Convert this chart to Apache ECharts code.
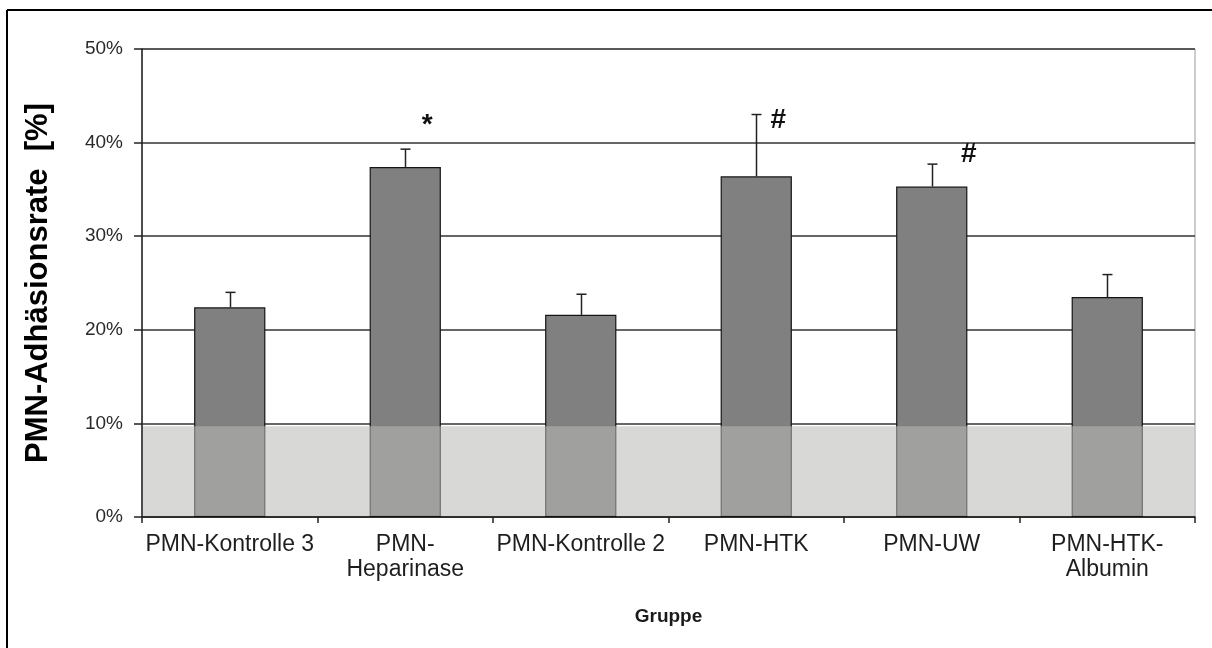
<!DOCTYPE html>
<html>
<head>
<meta charset="utf-8">
<title>PMN-Adhäsionsrate</title>
<script src="https://cdn.jsdelivr.net/npm/echarts@6/dist/echarts.min.js"></script>
<style>
  html, body { margin: 0; padding: 0; background: #fff; }
  #chart { width: 1212px; height: 648px; }
</style>
</head>
<body>
<div id="chart"></div>
<script>
// Groups and measured adhesion rates (mean, upper SD) in percent
const categories = ['PMN-Kontrolle 3', 'PMN-\nHeparinase', 'PMN-Kontrolle 2', 'PMN-HTK', 'PMN-UW', 'PMN-HTK-\nAlbumin'];
const meanRate = [22.4, 37.4, 21.6, 36.4, 35.3, 23.5];
const sdRate = [1.6, 1.9, 2.2, 6.6, 2.4, 2.4];
// Background adhesion level shaded across the plot
const baselineLevel = 9.7;
// Significance markers and the level (in %) they sit at
const markerText = ['', '*', '', '#', '#', ''];
const markerLevel = [null, 41.8, null, 42.4, 38.7, null];
// Y axis range
const yMin = 0, yMax = 50, yStep = 10;

const FONT = '"Liberation Sans", Arial, sans-serif';
// horizontal pixel shift of each marker from its category centre
const markerShift = [0, 22, 0, 22, 37, 0];

const chart = echarts.init(document.getElementById('chart'), null, { renderer: 'canvas' });

const errData = meanRate.map((m, i) => [i, m, m + sdRate[i]]);
const markData = markerText.map((t, i) => [i, markerLevel[i], t]).filter(d => d[2] !== '');

const option = {
  backgroundColor: '#ffffff',
  animation: false,
  graphic: [
    { type: 'line', shape: { x1: 7, y1: 10, x2: 1212, y2: 10 }, style: { stroke: '#000', lineWidth: 2 } },
    { type: 'line', shape: { x1: 7, y1: 10, x2: 7, y2: 648 }, style: { stroke: '#000', lineWidth: 2 } }
  ],
  grid: {
    left: 142, right: 17, top: 49, bottom: 131,
    show: true, borderColor: '#9a9a9a', borderWidth: 1, backgroundColor: 'transparent'
  },
  xAxis: {
    type: 'category',
    data: categories,
    name: 'Gruppe',
    nameLocation: 'middle',
    nameGap: 90,
    nameTextStyle: { fontFamily: FONT, fontWeight: 'bold', fontSize: 19, color: '#1a1a1a' },
    axisLine: { lineStyle: { color: '#222', width: 1.5 } },
    axisTick: { show: true, length: 6, lineStyle: { color: '#222', width: 1.5 } },
    axisLabel: {
      fontFamily: FONT, fontSize: 23, color: '#1e1e1e', margin: 15, lineHeight: 25, interval: 0
    },
    splitLine: { show: false }
  },
  yAxis: {
    type: 'value',
    min: yMin, max: yMax, interval: yStep,
    name: 'PMN-Adhäsionsrate  [%]',
    nameLocation: 'middle',
    nameGap: 88,
    nameTextStyle: { fontFamily: FONT, fontWeight: 'bold', fontSize: 31, color: '#000' },
    axisLine: { show: true, lineStyle: { color: '#222', width: 1.5 } },
    axisTick: { show: true, length: 8, lineStyle: { color: '#222', width: 1.5 } },
    axisLabel: {
      fontFamily: FONT, fontSize: 19, color: '#2a2a2a', margin: 19,
      formatter: v => v + '%'
    },
    splitLine: { show: true, lineStyle: { color: '#333', width: 1.5 } }
  },
  series: [
    {
      type: 'bar',
      data: meanRate,
      barWidth: '40.6%',
      itemStyle: { color: '#808080', borderColor: '#151515', borderWidth: 1.2 },
      z: 2
    },
    {
      // translucent band over the background adhesion level
      type: 'custom',
      data: [[0, baselineLevel]],
      encode: { x: 0, y: 1 },
      z: 3,
      silent: true,
      renderItem: (params, api) => {
        const cs = params.coordSys;
        const top = api.coord([0, api.value(1)])[1];
        const bottom = api.coord([0, yMin])[1];
        return {
          type: 'rect',
          shape: { x: cs.x + 1, y: top, width: cs.width - 1.5, height: bottom - top - 1 },
          style: { fill: 'rgba(186,186,183,0.56)' }
        };
      }
    },
    {
      // upper standard deviation whiskers
      type: 'custom',
      data: errData,
      encode: { x: 0, y: [1, 2] },
      z: 4,
      silent: true,
      renderItem: (params, api) => {
        const base = api.coord([api.value(0), api.value(1)]);
        const top = api.coord([api.value(0), api.value(2)]);
        const x = Math.round(base[0]) + 0.5;
        const style = { stroke: '#222', lineWidth: 1.5 };
        return {
          type: 'group',
          children: [
            { type: 'line', shape: { x1: x, y1: base[1], x2: x, y2: top[1] }, style },
            { type: 'line', shape: { x1: x - 5, y1: top[1], x2: x + 5, y2: top[1] }, style }
          ]
        };
      }
    },
    {
      // significance markers
      type: 'custom',
      data: markData,
      encode: { x: 0, y: 1 },
      z: 5,
      silent: true,
      renderItem: (params, api) => {
        const idx = api.value(0);
        const p = api.coord([idx, api.value(1)]);
        const txt = markData[params.dataIndex][2];
        return {
          type: 'text',
          x: p[0] + markerShift[idx],
          y: p[1],
          style: {
            text: txt,
            fontFamily: FONT, fontWeight: 'bold', fontSize: 28,
            fill: '#111', align: 'center', verticalAlign: 'middle'
          }
        };
      }
    }
  ]
};

chart.setOption(option);
</script>
</body>
</html>
